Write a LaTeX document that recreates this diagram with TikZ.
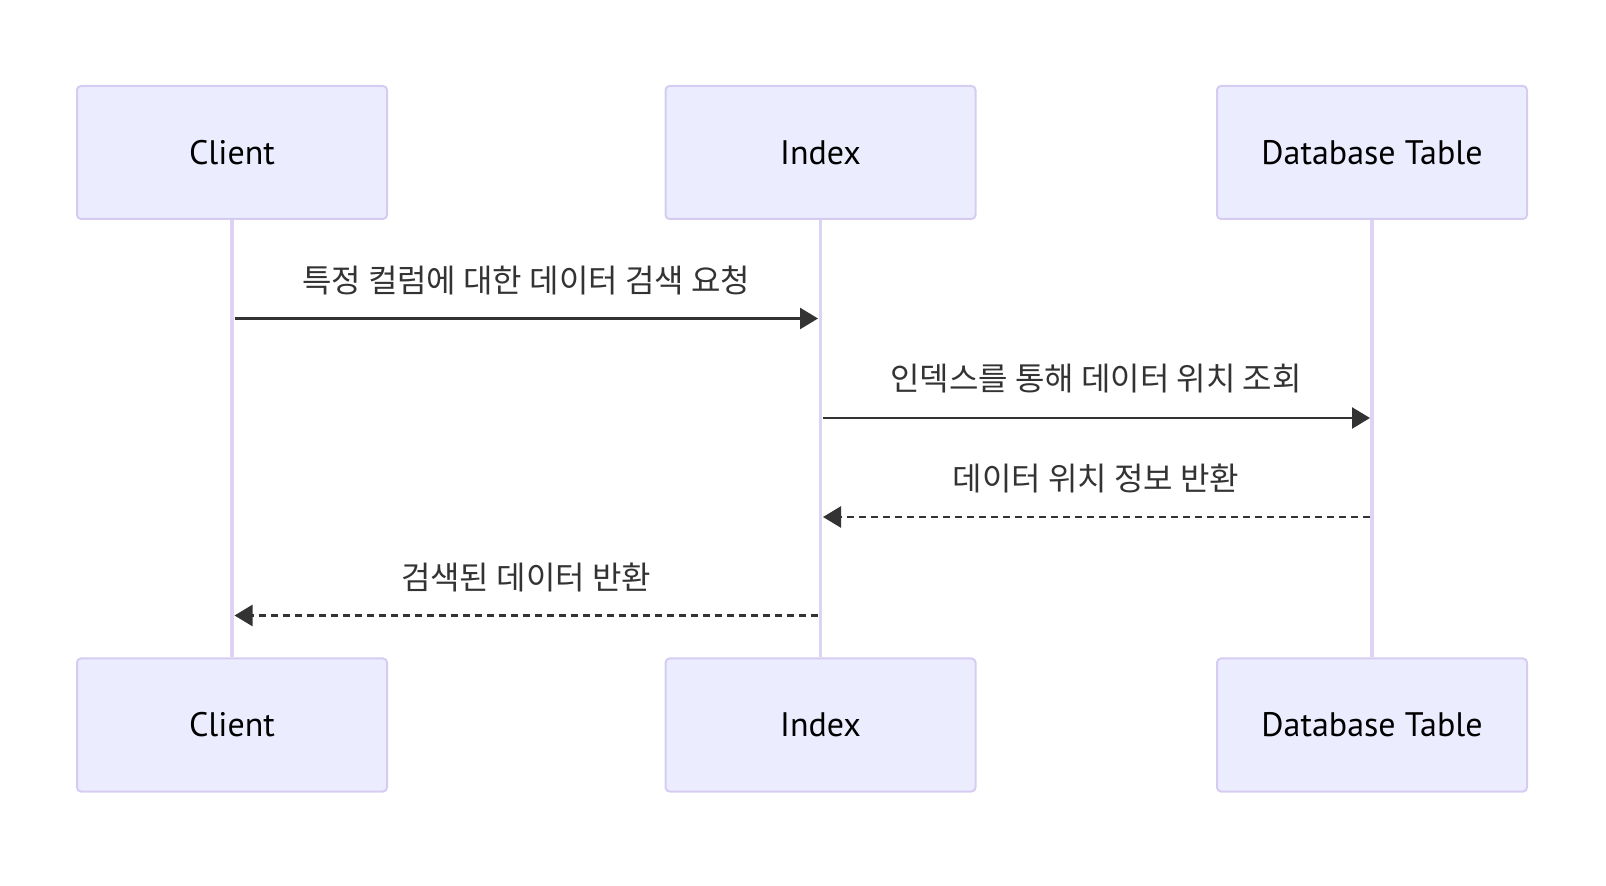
\documentclass[tikz,border=0pt]{standalone}
\usepackage{fontspec}
\setmainfont{PT Sans}
\newfontfamily\kr{Noto Sans CJK KR}
\usetikzlibrary{arrows.meta}
\definecolor{actfill}{HTML}{ECECFF}
\definecolor{actline}{HTML}{D6CCF2}
\definecolor{lifeln}{HTML}{DDD4F5}
\definecolor{msgc}{HTML}{333333}
\tikzset{
  actor/.style={draw=actline, line width=1pt, fill=actfill, rounded corners=2pt,
    minimum width=155pt, minimum height=66.5pt, inner sep=0pt,
    font=\fontsize{17}{20}\selectfont, text=black},
  life/.style={draw=lifeln, line width=1.8pt},
  msg/.style={draw=msgc, line width=1.3pt, -{Triangle[length=9pt,width=10.5pt]}},
  reply/.style={msg, dash pattern=on 3.5pt off 2.5pt},
  lbl/.style={font=\kr\fontsize{16}{19}\selectfont, text=msgc, inner sep=0pt}
}
\begin{document}
\begin{tikzpicture}[x=0.5pt,y=-0.5pt]
\useasboundingbox (0,0) rectangle (1606,886);
\node[actor] (ct) at (232,152.5) {Client};
\node[actor] (it) at (820.5,152.5) {Index};
\node[actor] (dt) at (1372,152.5) {Database Table};
\node[actor] (cb) at (232,725) {Client};
\node[actor] (ib) at (820.5,725) {Index};
\node[actor] (db) at (1372,725) {Database Table};
\draw[life] (ct.south) -- (cb.north);
\draw[life] (it.south) -- (ib.north);
\draw[life] (dt.south) -- (db.north);
% message end points
\coordinate (m1a) at (234.5,318.5);
\coordinate (m1b) at (818,318.5);
\coordinate (m2a) at (823,418);
\coordinate (m2b) at (1370,418);
\coordinate (m3a) at (1370,517);
\coordinate (m3b) at (823,517);
\coordinate (m4a) at (818,615.5);
\coordinate (m4b) at (234.5,615.5);
\draw[msg] (m1a) -- (m1b);
\draw[msg] (m2a) -- (m2b);
\draw[reply] (m3a) -- (m3b);
\draw[reply] (m4a) -- (m4b);
\node[lbl] (l1) at (526,280) {특정 컬럼에 대한 데이터 검색 요청};
\node[lbl] (l2) at (1096,379) {인덱스를 통해 데이터 위치 조회};
\node[lbl] (l3) at (1096,478) {데이터 위치 정보 반환};
\node[lbl] (l4) at (526,577) {검색된 데이터 반환};
\end{tikzpicture}
\end{document}
